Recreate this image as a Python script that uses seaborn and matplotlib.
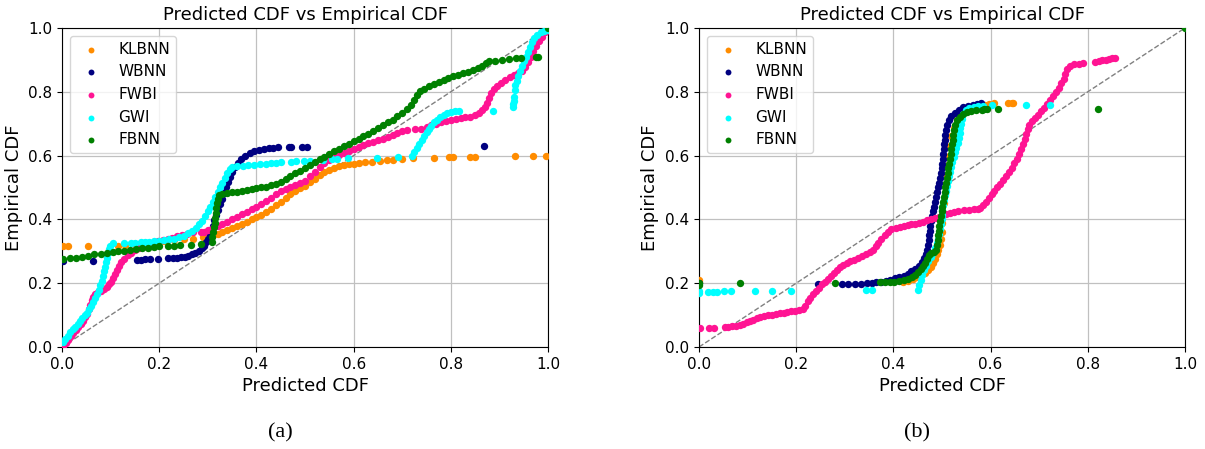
import pandas as pd
import matplotlib
matplotlib.use("Agg")
import matplotlib.pyplot as plt
import seaborn as sns

models = ["KLBNN", "WBNN", "FWBI", "GWI", "FBNN"]
colors = ["darkorange", "navy", "deeppink", "cyan", "green"]
panel_labels = ["(a)", "(b)"]
ticks = [0.0, 0.2, 0.4, 0.6, 0.8, 1.0]

# -----------------------------
# (a) points: (predicted CDF, empirical CDF)
# -----------------------------
a_klbnn = [
    (0.002, 0.316), (0.012, 0.316), (0.053, 0.316), (0.115, 0.318), (0.13, 0.32),
    (0.15, 0.322), (0.17, 0.325), (0.19, 0.328), (0.21, 0.331), (0.23, 0.334),
    (0.25, 0.337), (0.27, 0.34), (0.29, 0.344), (0.30, 0.345), (0.31, 0.35),
    (0.32, 0.355), (0.33, 0.36), (0.34, 0.366), (0.35, 0.372), (0.36, 0.378),
    (0.37, 0.385), (0.38, 0.392), (0.39, 0.40), (0.40, 0.406), (0.41, 0.414),
    (0.42, 0.423), (0.43, 0.433), (0.44, 0.444), (0.45, 0.456), (0.46, 0.468),
    (0.47, 0.479), (0.48, 0.489), (0.49, 0.498), (0.50, 0.506), (0.51, 0.516),
    (0.52, 0.527), (0.53, 0.538), (0.54, 0.548), (0.55, 0.556), (0.56, 0.562),
    (0.57, 0.567), (0.58, 0.571), (0.59, 0.574), (0.60, 0.575), (0.612, 0.577),
    (0.624, 0.579), (0.637, 0.581), (0.654, 0.584), (0.668, 0.586), (0.681, 0.587),
    (0.70, 0.588), (0.723, 0.591), (0.765, 0.593), (0.797, 0.595), (0.805, 0.596),
    (0.839, 0.597), (0.849, 0.597), (0.933, 0.599), (0.969, 0.6), (0.995, 0.6),
]
a_wbnn = [
    (0.002, 0.27), (0.064, 0.27), (0.154, 0.273), (0.162, 0.274), (0.171, 0.275),
    (0.181, 0.275), (0.197, 0.277), (0.219, 0.278), (0.228, 0.279), (0.236, 0.28),
    (0.244, 0.281), (0.252, 0.283), (0.26, 0.286), (0.267, 0.29), (0.274, 0.295),
    (0.281, 0.301), (0.287, 0.309), (0.292, 0.318), (0.296, 0.328), (0.30, 0.339),
    (0.304, 0.352), (0.307, 0.366), (0.31, 0.38), (0.313, 0.397), (0.317, 0.413),
    (0.321, 0.43), (0.325, 0.447), (0.329, 0.465), (0.333, 0.483), (0.337, 0.5),
    (0.341, 0.517), (0.345, 0.533), (0.35, 0.549), (0.356, 0.563), (0.362, 0.577),
    (0.369, 0.589), (0.377, 0.6), (0.386, 0.608), (0.395, 0.614), (0.405, 0.619),
    (0.415, 0.622), (0.425, 0.624), (0.435, 0.625), (0.445, 0.626), (0.466, 0.626),
    (0.472, 0.627), (0.494, 0.628), (0.504, 0.628), (0.868, 0.629),
]
a_fwbi = [
    (0.002, 0.002), (0.008, 0.013), (0.013, 0.023), (0.018, 0.033), (0.023, 0.043),
    (0.028, 0.053), (0.033, 0.063), (0.038, 0.073), (0.043, 0.083), (0.048, 0.093),
    (0.052, 0.104), (0.055, 0.118), (0.058, 0.132), (0.061, 0.146), (0.064, 0.158),
    (0.068, 0.166), (0.074, 0.171), (0.08, 0.176), (0.086, 0.181), (0.092, 0.188),
    (0.097, 0.196), (0.101, 0.205), (0.105, 0.216), (0.109, 0.229), (0.113, 0.242),
    (0.117, 0.254), (0.122, 0.266), (0.128, 0.277), (0.135, 0.287), (0.142, 0.296),
    (0.15, 0.304), (0.158, 0.311), (0.167, 0.317), (0.177, 0.322), (0.187, 0.327),
    (0.197, 0.331), (0.207, 0.335), (0.217, 0.339), (0.227, 0.343), (0.237, 0.347),
    (0.247, 0.351), (0.257, 0.355), (0.27, 0.36), (0.286, 0.361), (0.293, 0.362),
    (0.30, 0.366), (0.31, 0.372), (0.32, 0.378), (0.33, 0.385), (0.34, 0.392),
    (0.35, 0.40), (0.36, 0.408), (0.37, 0.416), (0.38, 0.424), (0.39, 0.432),
    (0.40, 0.44), (0.41, 0.449), (0.42, 0.458), (0.43, 0.468), (0.44, 0.478),
    (0.45, 0.488), (0.46, 0.495), (0.47, 0.502), (0.48, 0.508), (0.49, 0.514),
    (0.50, 0.521), (0.51, 0.535), (0.52, 0.55), (0.53, 0.565), (0.54, 0.577),
    (0.55, 0.586), (0.56, 0.594), (0.57, 0.601), (0.58, 0.608), (0.59, 0.615),
    (0.60, 0.622), (0.61, 0.627), (0.62, 0.632), (0.63, 0.638), (0.64, 0.643),
    (0.65, 0.648), (0.66, 0.653), (0.67, 0.659), (0.68, 0.665), (0.69, 0.671),
    (0.70, 0.676), (0.71, 0.679), (0.726, 0.682), (0.738, 0.684), (0.75, 0.689),
    (0.76, 0.695), (0.77, 0.7), (0.78, 0.705), (0.79, 0.709), (0.80, 0.712),
    (0.81, 0.715), (0.82, 0.718), (0.83, 0.72), (0.84, 0.722), (0.85, 0.726),
    (0.858, 0.732), (0.865, 0.742), (0.87, 0.753), (0.875, 0.766), (0.879, 0.78),
    (0.883, 0.795), (0.888, 0.808), (0.895, 0.818), (0.903, 0.828), (0.912, 0.837),
    (0.921, 0.845), (0.93, 0.852), (0.938, 0.858), (0.946, 0.865), (0.952, 0.878),
    (0.958, 0.893), (0.964, 0.91), (0.97, 0.927), (0.976, 0.943), (0.982, 0.958),
    (0.988, 0.973), (0.994, 0.987), (1.0, 1.0),
]
a_gwi = [
    (0.002, 0.015), (0.007, 0.026), (0.012, 0.036), (0.017, 0.046), (0.022, 0.055),
    (0.027, 0.064), (0.032, 0.073), (0.037, 0.082), (0.042, 0.091), (0.047, 0.1),
    (0.052, 0.108), (0.056, 0.118), (0.06, 0.13), (0.064, 0.142), (0.068, 0.155),
    (0.072, 0.167), (0.076, 0.18), (0.079, 0.193), (0.082, 0.207), (0.084, 0.222),
    (0.086, 0.237), (0.088, 0.252), (0.09, 0.266), (0.092, 0.28), (0.094, 0.294),
    (0.096, 0.307), (0.099, 0.318), (0.104, 0.325), (0.128, 0.326), (0.141, 0.327),
    (0.151, 0.327), (0.163, 0.328), (0.171, 0.329), (0.179, 0.33), (0.19, 0.331),
    (0.20, 0.333), (0.21, 0.335), (0.22, 0.337), (0.23, 0.34), (0.24, 0.344),
    (0.25, 0.349), (0.26, 0.356), (0.268, 0.364), (0.275, 0.373), (0.282, 0.384),
    (0.288, 0.396), (0.294, 0.41), (0.30, 0.425), (0.305, 0.44), (0.31, 0.455),
    (0.315, 0.47), (0.32, 0.485), (0.325, 0.5), (0.33, 0.515), (0.335, 0.53),
    (0.34, 0.545), (0.345, 0.558), (0.35, 0.565), (0.36, 0.566), (0.372, 0.568),
    (0.383, 0.57), (0.395, 0.571), (0.407, 0.573), (0.419, 0.575), (0.43, 0.577),
    (0.44, 0.578), (0.45, 0.579), (0.472, 0.581), (0.482, 0.582), (0.497, 0.583),
    (0.51, 0.584), (0.537, 0.587), (0.555, 0.588), (0.565, 0.589), (0.589, 0.591),
    (0.649, 0.593), (0.692, 0.595), (0.72, 0.599), (0.725, 0.612), (0.73, 0.625),
    (0.735, 0.637), (0.74, 0.649), (0.745, 0.661), (0.75, 0.673), (0.755, 0.684),
    (0.76, 0.694), (0.766, 0.704), (0.772, 0.713), (0.778, 0.72), (0.785, 0.727),
    (0.792, 0.732), (0.80, 0.737), (0.808, 0.739), (0.817, 0.74), (0.886, 0.741),
    (0.927, 0.752), (0.928, 0.762), (0.929, 0.772), (0.93, 0.783), (0.931, 0.806),
    (0.933, 0.82), (0.936, 0.835), (0.939, 0.85), (0.942, 0.865), (0.946, 0.88),
    (0.95, 0.895), (0.954, 0.91), (0.958, 0.925), (0.962, 0.94), (0.967, 0.955),
    (0.972, 0.968), (0.978, 0.978), (0.985, 0.986), (0.992, 0.991), (0.998, 0.995),
]
a_fbnn = [
    (0.002, 0.277), (0.016, 0.278), (0.029, 0.28), (0.041, 0.281), (0.053, 0.284),
    (0.065, 0.29), (0.08, 0.292), (0.092, 0.294), (0.104, 0.297), (0.116, 0.3),
    (0.128, 0.302), (0.14, 0.305), (0.152, 0.307), (0.164, 0.309), (0.176, 0.311),
    (0.19, 0.313), (0.20, 0.315), (0.218, 0.316), (0.23, 0.317), (0.242, 0.319),
    (0.265, 0.321), (0.285, 0.324), (0.308, 0.33), (0.309, 0.345), (0.311, 0.36),
    (0.313, 0.375), (0.314, 0.39), (0.315, 0.405), (0.316, 0.42), (0.317, 0.435),
    (0.318, 0.45), (0.32, 0.465), (0.322, 0.475), (0.33, 0.48), (0.34, 0.483),
    (0.35, 0.485), (0.36, 0.487), (0.37, 0.489), (0.38, 0.492), (0.39, 0.494),
    (0.40, 0.497), (0.41, 0.5), (0.42, 0.503), (0.43, 0.507), (0.44, 0.512),
    (0.45, 0.517), (0.46, 0.526), (0.47, 0.536), (0.48, 0.545), (0.49, 0.553),
    (0.50, 0.562), (0.51, 0.571), (0.52, 0.58), (0.53, 0.589), (0.54, 0.597),
    (0.55, 0.605), (0.56, 0.613), (0.57, 0.621), (0.58, 0.629), (0.59, 0.637),
    (0.60, 0.645), (0.61, 0.653), (0.62, 0.661), (0.63, 0.669), (0.64, 0.677),
    (0.65, 0.686), (0.66, 0.695), (0.67, 0.704), (0.68, 0.713), (0.69, 0.723),
    (0.70, 0.733), (0.71, 0.745), (0.718, 0.76), (0.724, 0.775), (0.73, 0.79),
    (0.736, 0.802), (0.745, 0.81), (0.755, 0.818), (0.765, 0.825), (0.775, 0.831),
    (0.785, 0.837), (0.795, 0.843), (0.805, 0.848), (0.815, 0.853), (0.825, 0.858),
    (0.835, 0.863), (0.845, 0.868), (0.855, 0.874), (0.865, 0.881), (0.872, 0.889),
    (0.878, 0.895), (0.89, 0.898), (0.905, 0.9), (0.92, 0.902), (0.934, 0.905),
    (0.945, 0.906), (0.975, 0.909), (0.98, 0.909), (1.0, 1.0),
]

# -----------------------------
# (b) points
# -----------------------------
b_klbnn = [
    (0.0, 0.21), (0.0, 0.204), (0.42, 0.205), (0.43, 0.208), (0.44, 0.213),
    (0.448, 0.22), (0.456, 0.226), (0.464, 0.233), (0.471, 0.241), (0.477, 0.25),
    (0.482, 0.262), (0.486, 0.276), (0.489, 0.29), (0.492, 0.305), (0.495, 0.32),
    (0.497, 0.34), (0.499, 0.36), (0.501, 0.39), (0.503, 0.42), (0.505, 0.45),
    (0.507, 0.48), (0.509, 0.51), (0.511, 0.54), (0.513, 0.57), (0.515, 0.6),
    (0.517, 0.63), (0.519, 0.66), (0.524, 0.686), (0.53, 0.71), (0.537, 0.73),
    (0.546, 0.743), (0.557, 0.751), (0.57, 0.756), (0.588, 0.759), (0.597, 0.762),
    (0.606, 0.764), (0.635, 0.764), (0.643, 0.766), (0.647, 0.766),
]
b_wbnn = [
    (0.0, 0.2), (0.245, 0.196), (0.295, 0.197), (0.307, 0.197), (0.32, 0.198),
    (0.333, 0.199), (0.345, 0.2), (0.355, 0.201), (0.365, 0.203), (0.375, 0.205),
    (0.385, 0.208), (0.394, 0.211), (0.403, 0.215), (0.412, 0.219), (0.421, 0.224),
    (0.429, 0.23), (0.437, 0.237), (0.445, 0.245), (0.452, 0.255), (0.458, 0.266),
    (0.463, 0.278), (0.467, 0.29), (0.47, 0.305), (0.472, 0.32), (0.473, 0.335),
    (0.474, 0.35), (0.475, 0.365), (0.476, 0.38), (0.478, 0.395), (0.48, 0.41),
    (0.482, 0.425), (0.484, 0.44), (0.486, 0.455), (0.488, 0.47), (0.49, 0.485),
    (0.492, 0.5), (0.494, 0.515), (0.496, 0.53), (0.497, 0.545), (0.499, 0.56),
    (0.50, 0.575), (0.502, 0.59), (0.503, 0.605), (0.504, 0.62), (0.505, 0.635),
    (0.506, 0.65), (0.507, 0.665), (0.508, 0.68), (0.511, 0.695), (0.514, 0.71),
    (0.519, 0.723), (0.526, 0.735), (0.534, 0.744), (0.543, 0.751), (0.553, 0.756),
    (0.563, 0.76), (0.573, 0.763), (0.581, 0.765),
]
b_fwbi = [
    (0.002, 0.059), (0.02, 0.06), (0.031, 0.06), (0.053, 0.062), (0.06, 0.063),
    (0.068, 0.065), (0.076, 0.067), (0.084, 0.07), (0.091, 0.073), (0.098, 0.077),
    (0.105, 0.081), (0.112, 0.086), (0.119, 0.091), (0.126, 0.095), (0.134, 0.097),
    (0.142, 0.099), (0.15, 0.101), (0.158, 0.103), (0.166, 0.105), (0.174, 0.107),
    (0.182, 0.109), (0.19, 0.112), (0.198, 0.114), (0.206, 0.117), (0.214, 0.12),
    (0.219, 0.13), (0.224, 0.143), (0.229, 0.155), (0.235, 0.166), (0.241, 0.176),
    (0.247, 0.186), (0.253, 0.196), (0.259, 0.205), (0.265, 0.214), (0.271, 0.223),
    (0.277, 0.232), (0.283, 0.241), (0.29, 0.25), (0.297, 0.257), (0.304, 0.263),
    (0.311, 0.268), (0.319, 0.274), (0.327, 0.28), (0.335, 0.286), (0.343, 0.292),
    (0.351, 0.298), (0.359, 0.304), (0.364, 0.315), (0.369, 0.327), (0.375, 0.34),
    (0.382, 0.352), (0.389, 0.362), (0.396, 0.369), (0.405, 0.372), (0.413, 0.375),
    (0.421, 0.378), (0.429, 0.381), (0.437, 0.384), (0.445, 0.387), (0.453, 0.39),
    (0.461, 0.393), (0.469, 0.397), (0.477, 0.401), (0.485, 0.405), (0.493, 0.409),
    (0.501, 0.413), (0.509, 0.416), (0.517, 0.419), (0.525, 0.422), (0.533, 0.425),
    (0.545, 0.428), (0.555, 0.43), (0.565, 0.431), (0.574, 0.432), (0.578, 0.435),
    (0.584, 0.444), (0.59, 0.454), (0.596, 0.466), (0.602, 0.478), (0.608, 0.49),
    (0.614, 0.501), (0.62, 0.512), (0.626, 0.523), (0.632, 0.535), (0.638, 0.548),
    (0.644, 0.562), (0.649, 0.576), (0.654, 0.59), (0.658, 0.605), (0.662, 0.62),
    (0.666, 0.636), (0.67, 0.652), (0.673, 0.668), (0.676, 0.684), (0.68, 0.697),
    (0.686, 0.708), (0.692, 0.718), (0.698, 0.728), (0.704, 0.739), (0.71, 0.75),
    (0.716, 0.762), (0.722, 0.774), (0.728, 0.787), (0.734, 0.8), (0.74, 0.813),
    (0.745, 0.826), (0.75, 0.84), (0.754, 0.855), (0.758, 0.87), (0.763, 0.882),
    (0.772, 0.886), (0.781, 0.888), (0.79, 0.89), (0.815, 0.894), (0.823, 0.896),
    (0.83, 0.899), (0.837, 0.901), (0.844, 0.903), (0.85, 0.905), (0.856, 0.906),
]
b_gwi = [
    (0.0, 0.17), (0.0, 0.176), (0.019, 0.171), (0.029, 0.172), (0.038, 0.173),
    (0.052, 0.175), (0.065, 0.175), (0.115, 0.177), (0.15, 0.177), (0.189, 0.177),
    (0.344, 0.178), (0.355, 0.178), (0.451, 0.18), (0.453, 0.195), (0.456, 0.21),
    (0.459, 0.225), (0.463, 0.24), (0.467, 0.255), (0.472, 0.27), (0.477, 0.283),
    (0.482, 0.295), (0.486, 0.31), (0.489, 0.325), (0.491, 0.34), (0.493, 0.355),
    (0.495, 0.37), (0.497, 0.385), (0.499, 0.4), (0.5, 0.415), (0.501, 0.43),
    (0.503, 0.445), (0.504, 0.46), (0.506, 0.475), (0.508, 0.49), (0.51, 0.505),
    (0.512, 0.52), (0.514, 0.535), (0.516, 0.55), (0.519, 0.565), (0.521, 0.58),
    (0.524, 0.595), (0.527, 0.61), (0.529, 0.625), (0.532, 0.64), (0.534, 0.655),
    (0.536, 0.67), (0.538, 0.685), (0.539, 0.7), (0.541, 0.715), (0.544, 0.73),
    (0.549, 0.742), (0.556, 0.749), (0.565, 0.753), (0.575, 0.755), (0.585, 0.756),
    (0.602, 0.757), (0.673, 0.757), (0.722, 0.757),
]
b_fbnn = [
    (0.0, 0.2), (0.0, 0.195), (0.084, 0.2), (0.28, 0.2), (0.373, 0.203),
    (0.383, 0.203), (0.393, 0.204), (0.402, 0.205), (0.412, 0.207), (0.421, 0.21),
    (0.43, 0.214), (0.438, 0.219), (0.445, 0.226), (0.451, 0.234), (0.456, 0.243),
    (0.461, 0.253), (0.465, 0.264), (0.469, 0.276), (0.474, 0.287), (0.478, 0.295),
    (0.483, 0.299), (0.487, 0.305), (0.489, 0.32), (0.491, 0.335), (0.492, 0.35),
    (0.493, 0.365), (0.494, 0.38), (0.496, 0.395), (0.498, 0.41), (0.5, 0.425),
    (0.501, 0.44), (0.503, 0.455), (0.504, 0.47), (0.506, 0.485), (0.507, 0.5),
    (0.509, 0.515), (0.51, 0.53), (0.512, 0.545), (0.513, 0.56), (0.515, 0.575),
    (0.516, 0.59), (0.518, 0.605), (0.519, 0.62), (0.521, 0.635), (0.522, 0.65),
    (0.523, 0.665), (0.524, 0.68), (0.526, 0.695), (0.53, 0.71), (0.536, 0.722),
    (0.543, 0.731), (0.551, 0.737), (0.56, 0.741), (0.57, 0.743), (0.582, 0.744),
    (0.587, 0.745), (0.593, 0.745), (0.616, 0.746), (0.82, 0.747), (1.0, 1.0),
]

panels = [
    [a_klbnn, a_wbnn, a_fwbi, a_gwi, a_fbnn],
    [b_klbnn, b_wbnn, b_fwbi, b_gwi, b_fbnn],
]

fig = plt.figure(figsize=(12.05, 4.49), dpi=100)
ax_a = fig.add_axes([0.0515, 0.2272, 0.4033, 0.7105])
ax_b = fig.add_axes([0.5801, 0.2272, 0.4033, 0.7105])

for ax, series, tag, cx in zip([ax_a, ax_b], panels, panel_labels, [0.233, 0.761]):
    for name, pts, col in zip(models, series, colors):
        df = pd.DataFrame(pts, columns=["pred", "emp"])
        sns.scatterplot(data=df, x="pred", y="emp", color=col, s=28,
                        linewidth=0, label=name, ax=ax, zorder=3)

    # perfect calibration line
    ax.plot([0, 1], [0, 1], linestyle="--", color="gray", linewidth=1, zorder=2)

    ax.set_xlim(0, 1)
    ax.set_ylim(0, 1)
    ax.set_xticks(ticks)
    ax.set_yticks(ticks)
    ax.tick_params(labelsize=11)
    ax.grid(True, color="#c0c0c0", linewidth=0.9)
    ax.set_axisbelow(True)
    ax.set_title("Predicted CDF vs Empirical CDF", fontsize=13)
    ax.set_xlabel("Predicted CDF", fontsize=13)
    ax.set_ylabel("Empirical CDF", fontsize=13)
    ax.legend(loc="upper left", fontsize=11, markerscale=0.8)

    fig.text(cx, 0.035, tag, ha="center", va="center",
             family="Liberation Serif", fontsize=16)

plt.savefig("out.png", dpi=100)
